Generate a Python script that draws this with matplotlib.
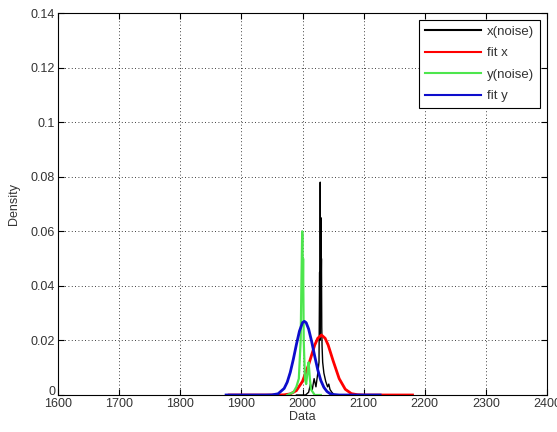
import matplotlib.pyplot as plt
from matplotlib.transforms import ScaledTranslation

# noisy density traces
xNoiseX = [1990, 2005, 2010, 2013, 2016, 2019, 2022, 2025, 2027, 2028, 2028.5, 2029, 2029.5,
           2030, 2030.5, 2031, 2031.5, 2032, 2033, 2035, 2038, 2041, 2043, 2045, 2048, 2052, 2070]
xNoiseY = [0, 0, 0.001, 0.004, 0.002, 0.006, 0.003, 0.008, 0.012, 0.045, 0.02, 0.078, 0.03,
           0.065, 0.04, 0.05, 0.025, 0.018, 0.012, 0.008, 0.005, 0.003, 0.004, 0.002, 0.001, 0, 0]

yNoiseX = [1975, 1985, 1990, 1994, 1997, 1998.5, 1999.5, 2000, 2000.5, 2001, 2002, 2004,
           2006, 2008, 2010, 2012, 2014, 2017, 2020, 2030]
yNoiseY = [0, 0.001, 0.003, 0.006, 0.02, 0.045, 0.06, 0.058, 0.04, 0.05, 0.02, 0.006,
           0.004, 0.008, 0.012, 0.006, 0.002, 0.001, 0, 0]

# fitted curves
fitXx = [1880, 1950, 1960, 1970, 1980, 1990, 2000, 2010, 2020, 2025, 2031, 2037, 2042,
         2050, 2060, 2070, 2080, 2090, 2100, 2110, 2180]
fitXy = [0, 0, 0.00001, 0.00007, 0.0004, 0.0016, 0.0050, 0.0111, 0.0183, 0.0208, 0.022,
         0.0208, 0.0183, 0.0126, 0.0060, 0.0021, 0.0005, 0.0001, 0, 0, 0]

fitYx = [1875, 1940, 1950, 1960, 1970, 1975, 1980, 1985, 1990, 1995, 2000, 2003, 2006,
         2010, 2015, 2020, 2025, 2030, 2035, 2040, 2045, 2050, 2060, 2127]
fitYy = [0, 0, 0.00005, 0.00044, 0.0024, 0.0047, 0.0083, 0.0131, 0.0185, 0.0234, 0.0265,
         0.027, 0.0265, 0.0242, 0.0196, 0.0142, 0.0092, 0.0053, 0.0028, 0.0013, 0.0005,
         0.0002, 0, 0]

plt.rcParams['font.family'] = ['Liberation Sans', 'DejaVu Sans']
plt.rcParams['font.size'] = 9
txtCol = '#333333'

fig = plt.figure(figsize=(5.57, 4.32), dpi=100)
ax = fig.add_axes([58/557, 1 - 395/432, 489/557, 382/432])

ax.plot(xNoiseX, xNoiseY, color='black', lw=1.0, label='x(noise)')
ax.plot(fitXx, fitXy, color='red', lw=2.0, label='fit x')
ax.plot(yNoiseX, yNoiseY, color=(0.3, 0.9, 0.3), lw=1.6, label='y(noise)')
ax.plot(fitYx, fitYy, color=(0.05, 0.05, 0.8), lw=2.0, label='fit y')

ax.set_xlim(1600, 2400)
ax.set_ylim(0, 0.14)
ax.set_xticks(range(1600, 2401, 100))
ax.set_yticks([0, 0.02, 0.04, 0.06, 0.08, 0.1, 0.12, 0.14])
ax.set_yticklabels(['0', '0.02', '0.04', '0.06', '0.08', '0.1', '0.12', '0.14'])
ax.grid(True, color='black', linestyle=(0, (1, 3)), lw=0.6)
ax.tick_params(direction='in', top=True, right=True, length=4, color='black',
               labelcolor=txtCol, pad=2)
for s in ax.spines.values():
    s.set_color('black')
    s.set_linewidth(0.8)

# nudge the "0" up a little so it sits above "1600"
zeroLab = ax.get_yticklabels()[0]
zeroLab.set_transform(zeroLab.get_transform() + ScaledTranslation(0, 3/72, fig.dpi_scale_trans))

ax.set_xlabel('Data', labelpad=1, color=txtCol)
ax.set_ylabel('Density', labelpad=8, color=txtCol)

leg = ax.legend(loc='upper right', fancybox=False, framealpha=1, edgecolor='black',
                handlelength=4.2, borderaxespad=0.5, labelspacing=0.7, fontsize=9.5,
                borderpad=0.45, handletextpad=0.5)
leg.get_frame().set_linewidth(0.8)
for t in leg.get_texts():
    t.set_color(txtCol)
for h in leg.get_lines():
    h.set_linewidth(1.5)

fig.savefig('out.png', dpi=100)
